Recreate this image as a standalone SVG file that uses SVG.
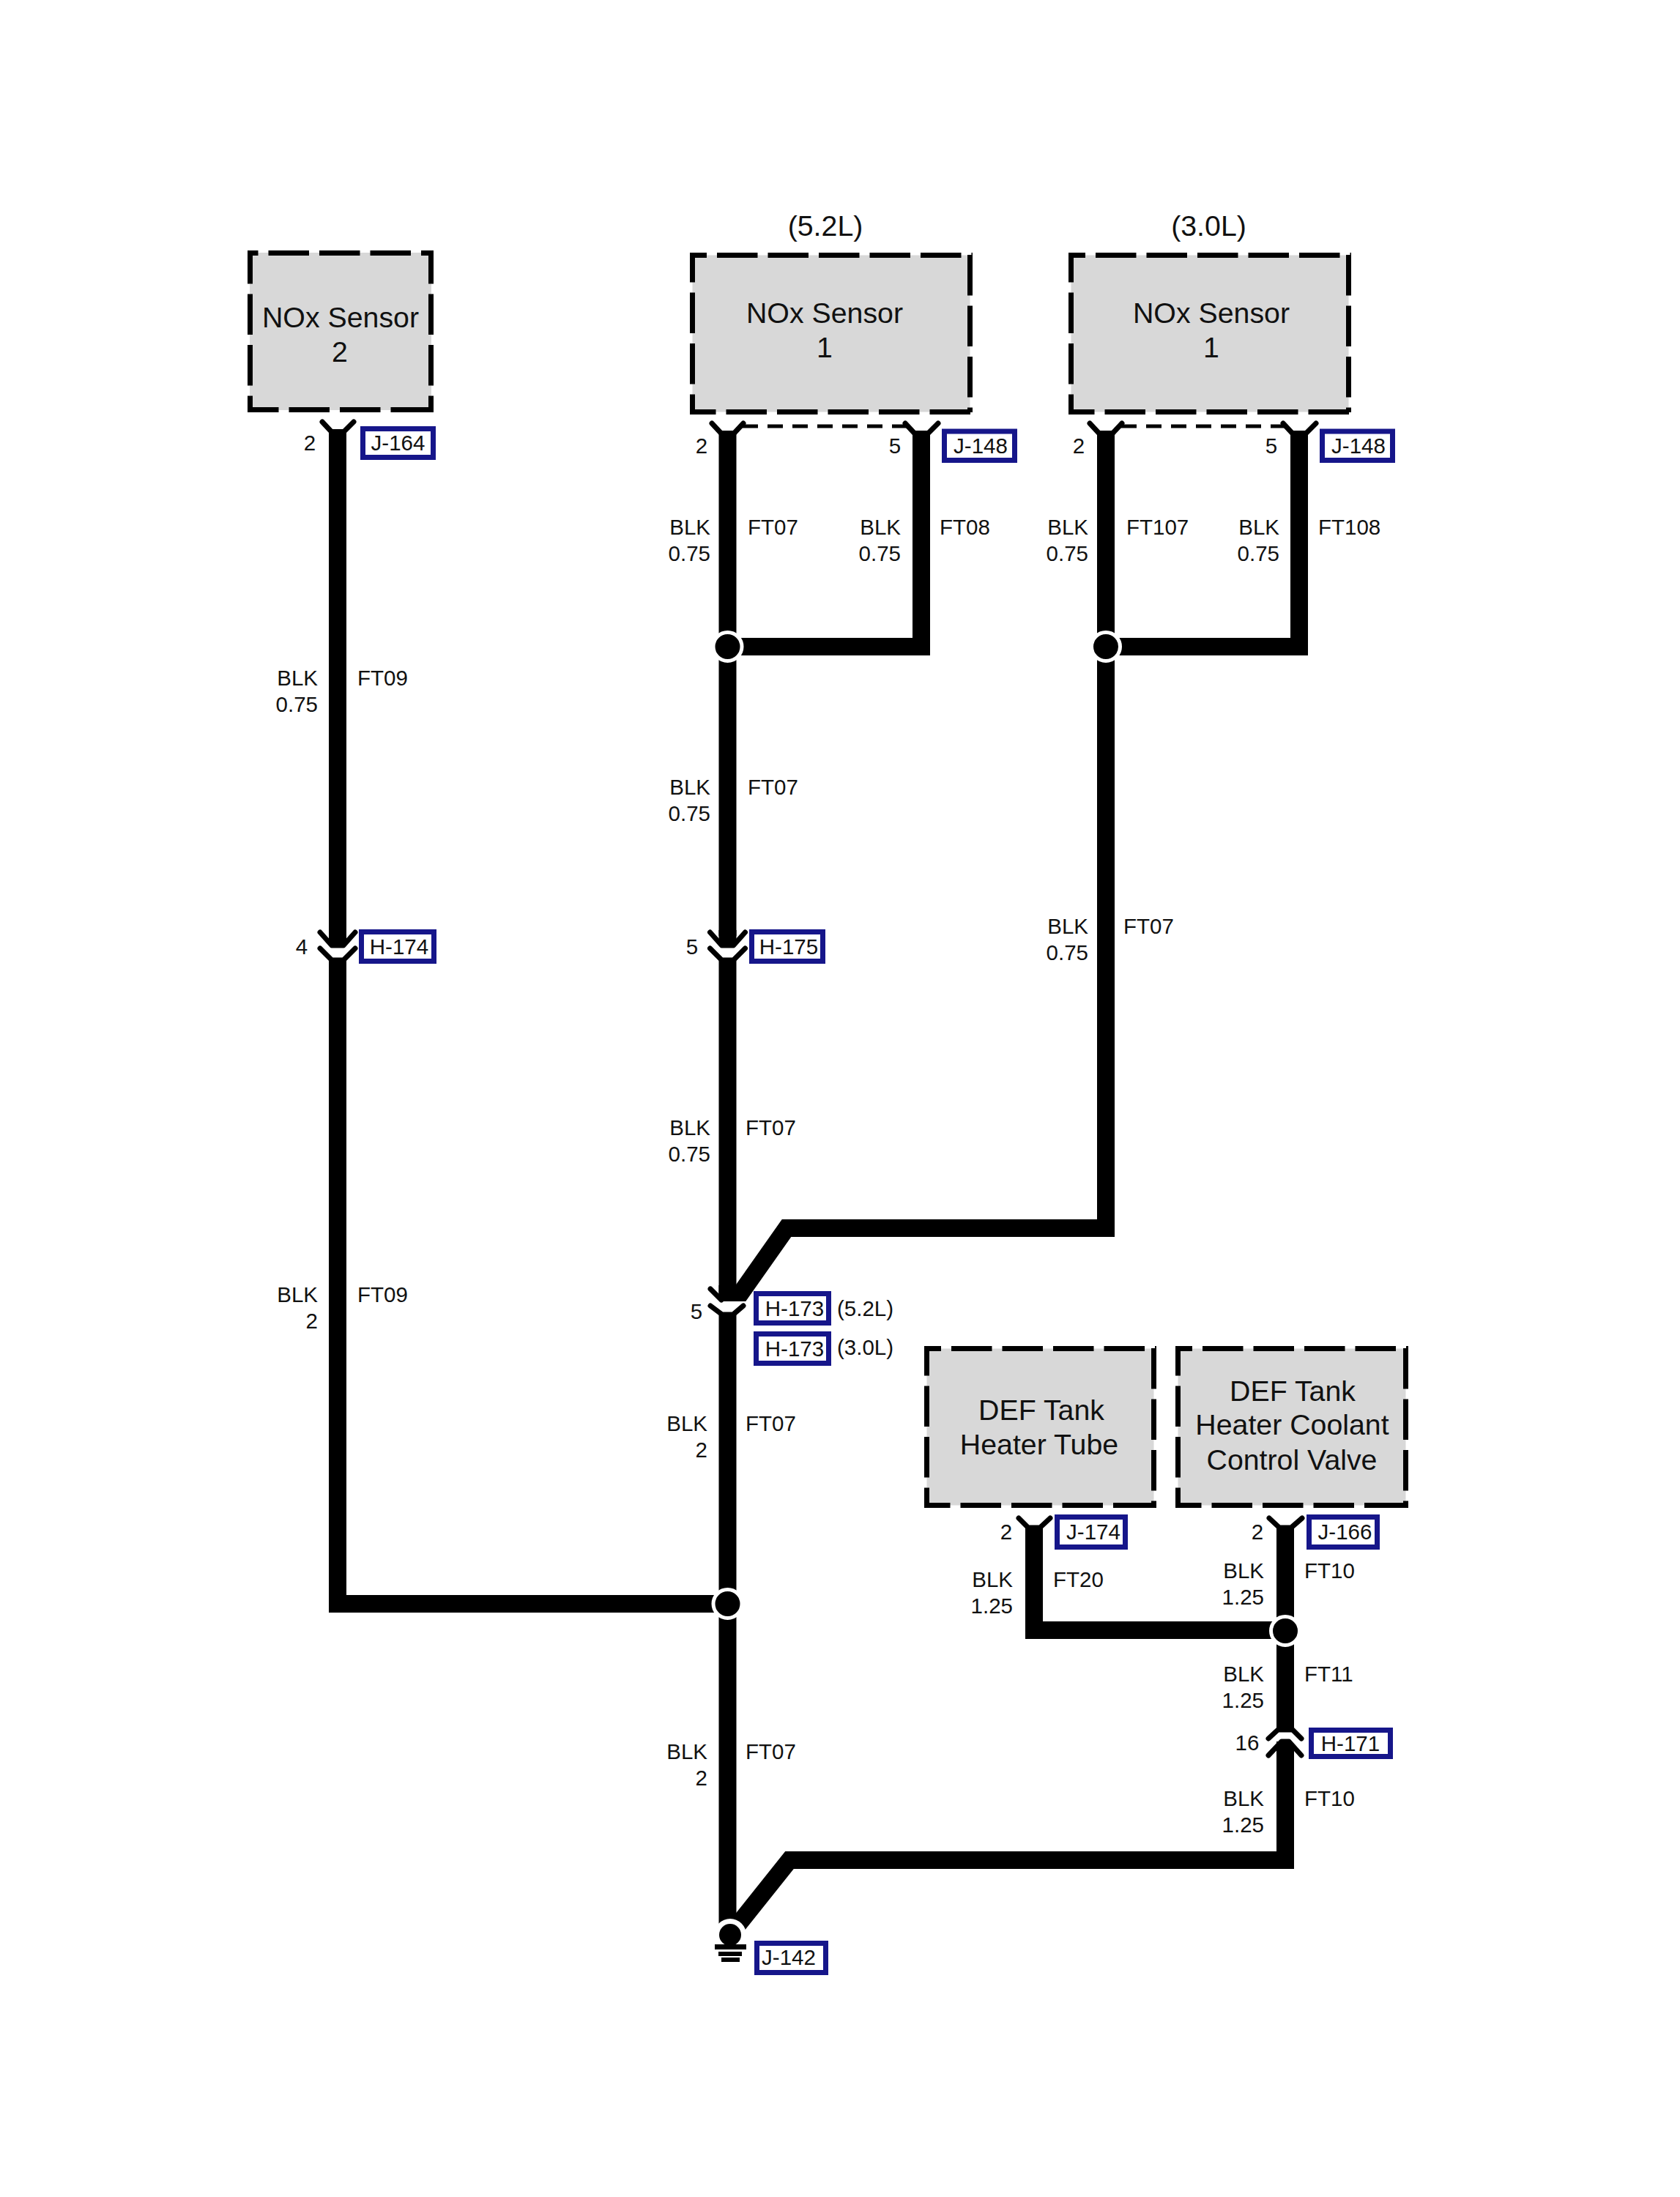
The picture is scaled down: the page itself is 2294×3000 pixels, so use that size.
<svg xmlns="http://www.w3.org/2000/svg" width="2294" height="3000" viewBox="0 0 2294 3000">
<style>
text{font-family:"Liberation Sans",Arial,sans-serif;fill:#111}
.l{font-size:29.500px}
.e{text-anchor:end}
.m{text-anchor:middle}
.b{font-size:39.300px;text-anchor:middle}
.fill{fill:#d8d8d8}
.d{fill:none;stroke:#000;stroke-width:7;stroke-dasharray:55.500 14}
.w{fill:none;stroke:#000;stroke-width:24;stroke-linejoin:miter}
.a{fill:none;stroke:#000;stroke-width:7;stroke-linecap:round;stroke-linejoin:round}
.t{fill:#fff;stroke:#16168a;stroke-width:7}
.ring{fill:#000;stroke:#fff;stroke-width:5}
.th{fill:none;stroke:#000;stroke-width:5;stroke-dasharray:21 13}
</style>
<rect width="2294" height="3000" fill="#fff"/>
<g id="connectors">
<path class="w" d="M461 586V1278"/><path class="w" d="M461 1309V2190H993"/>
<path class="w" d="M993.500 588V1278"/><path class="w" d="M993.500 1309V1770"/><path class="w" d="M993.500 1790V2630"/>
<path class="w" d="M993.500 883H1258V588"/>
<path class="w" d="M1510 588V1677H1074L1005 1775"/>
<path class="w" d="M1510 883H1774V588"/>
<path class="w" d="M1412 2083V2226H1755"/>
<path class="w" d="M1755 2083V2364"/><path class="w" d="M1755 2390V2540H1078L1003 2634"/>
<path class="th" d="M1014 582H1238"/><path class="th" d="M1531 582H1754"/>
</g>
<g id="terminals">
<path class="a" d="M440 576L453 590H469L483 576"/>
<path class="a" d="M972 578L985 592H1002L1015 578"/><path class="a" d="M1236 578L1249 592H1267L1281 578"/>
<path class="a" d="M1488 578L1501 592H1519L1532 578"/><path class="a" d="M1752 578L1765 592H1783L1797 578"/>
<path class="a" d="M1391 2073L1404 2086H1420L1434 2073"/><path class="a" d="M1733 2073L1747 2086H1763L1778 2073"/>
<g id="pin-h174"><path d="M449 1270V1283L455 1291H467L473 1283V1270Z"/><path class="a" d="M437 1273L453 1291H469L485 1273"/><path class="a" d="M437 1295L453 1311H469L485 1295"/></g>
<g id="pin-h175"><path d="M981.500 1270V1283L987.500 1291H999.500L1005.500 1283V1270Z"/><path class="a" d="M969.500 1273L985.500 1291H1001.500L1017.500 1273"/><path class="a" d="M969.500 1295L985.500 1311H1001.500L1017.500 1295"/></g>
<g id="pin-h173"><path fill="#fff" d="M976 1777H1020L1002 1794H985Z"/><path d="M981.500 1755V1770L987 1777H1006L1016 1777L1005.500 1755Z"/><path class="a" d="M970 1760L985 1775"/><path class="a" d="M970 1783L986 1795H1001L1015 1783"/></g>
<g id="pin-h171"><path class="a" d="M1732 2374L1745 2362H1765L1777 2374"/><path d="M1743 2378V2397H1767V2388L1760 2378H1750Z"/><path class="a" d="M1732 2397L1750 2378H1760L1777 2397"/></g>
</g>
<g id="splices">
<circle class="ring" cx="993.500" cy="883" r="19.500"/><circle class="ring" cx="1510" cy="883" r="19.500"/>
<circle class="ring" cx="993.500" cy="2190" r="19.500"/><circle class="ring" cx="1755" cy="2227" r="19.500"/>
</g>
<g id="ground"><circle fill="#fff" cx="997" cy="2642" r="22"/><circle cx="997" cy="2642" r="15"/>
<rect x="976" y="2655" width="43" height="7"/><rect x="981" y="2665" width="32" height="6"/><rect x="985" y="2673" width="25" height="6"/></g>
<g id="nox2"><rect class="fill" x="341" y="345" width="248" height="215"/>
<path class="d" stroke-dashoffset="41" d="M338 345.500H592"/><path class="d" stroke-dashoffset="13" d="M338 559.500H592"/><path class="d" stroke-dashoffset="10" d="M341.500 342V563"/><path class="d" stroke-dashoffset="10" d="M588.500 342V563"/>
<text class="b" x="465" y="447">NOx Sensor</text><text class="b" x="464" y="494">2</text></g>
<g id="nox1a"><rect class="fill" x="945.500" y="348.500" width="379" height="214"/>
<path class="d" stroke-dashoffset="32.500" d="M942 348.500H1328"/><path class="d" stroke-dashoffset="20" d="M942 562.500H1328"/><path class="d" stroke-dashoffset="15" d="M945.500 345V566"/><path class="d" d="M1324.500 348V563"/>
<text class="b" x="1126" y="441">NOx Sensor</text><text class="b" x="1126" y="488">1</text></g>
<g id="nox1b"><rect class="fill" x="1462.500" y="348.500" width="379" height="214"/>
<path class="d" stroke-dashoffset="32.500" d="M1459 348.500H1845"/><path class="d" stroke-dashoffset="20" d="M1459 562.500H1845"/><path class="d" stroke-dashoffset="15" d="M1462.500 345V566"/><path class="d" d="M1841.500 348V563"/>
<text class="b" x="1654" y="441">NOx Sensor</text><text class="b" x="1654" y="488">1</text></g>
<g id="def-tube"><rect class="fill" x="1265.500" y="1841.500" width="310" height="214"/>
<path class="d" stroke-dashoffset="32.500" d="M1262 1841.500H1579"/><path class="d" stroke-dashoffset="20" d="M1262 2055.500H1579"/><path class="d" stroke-dashoffset="15" d="M1265.500 1838V2059"/><path class="d" d="M1575.500 1841V2059"/>
<text class="b" x="1422" y="1939">DEF Tank</text><text class="b" x="1419" y="1986">Heater Tube</text></g>
<g id="def-valve"><rect class="fill" x="1608.500" y="1841.500" width="311" height="214"/>
<path class="d" stroke-dashoffset="32.500" d="M1605 1841.500H1923"/><path class="d" stroke-dashoffset="20" d="M1605 2055.500H1923"/><path class="d" stroke-dashoffset="15" d="M1608.500 1838V2059"/><path class="d" d="M1919.500 1841V2059"/>
<text class="b" x="1765" y="1913">DEF Tank</text><text class="b" x="1764.500" y="1959">Heater Coolant</text><text class="b" x="1764" y="2007">Control Valve</text></g>
<g id="tags">
<rect class="t" x="495.500" y="585.500" width="96" height="39"/><text class="l m" x="543.500" y="615">J-164</text>
<rect class="t" x="1289.500" y="589" width="96" height="39.500"/><text class="l m" x="1339" y="619">J-148</text>
<rect class="t" x="1805.500" y="589" width="96" height="39.500"/><text class="l m" x="1855" y="619">J-148</text>
<rect class="t" x="493.500" y="1272.500" width="99" height="40"/><text class="l m" x="545" y="1303">H-174</text>
<rect class="t" x="1026.500" y="1272.500" width="97" height="40"/><text class="l m" x="1077" y="1303">H-175</text>
<rect class="t" x="1032.500" y="1766.500" width="99" height="40"/><text class="l m" x="1085" y="1797">H-173</text>
<rect class="t" x="1032.500" y="1821.500" width="99" height="40"/><text class="l m" x="1085" y="1852">H-173</text>
<rect class="t" x="1443.500" y="2071.500" width="93" height="41"/><text class="l m" x="1493" y="2102">J-174</text>
<rect class="t" x="1787.500" y="2071.500" width="93" height="41"/><text class="l m" x="1836.500" y="2102">J-166</text>
<rect class="t" x="1790.500" y="2362.500" width="108" height="36"/><text class="l m" x="1844" y="2391">H-171</text>
<rect class="t" x="1033.500" y="2653.500" width="94" height="40"/><text class="l m" x="1077" y="2683">J-142</text>
</g>
<g id="labels">
<text class="b" x="1127" y="321.500">(5.2L)</text><text class="b" x="1650.500" y="321.500">(3.0L)</text>
<text class="l" x="1143" y="1797">(5.2L)</text><text class="l" x="1143" y="1850">(3.0L)</text>
<text class="l m" x="423" y="615">2</text><text class="l m" x="958" y="619">2</text><text class="l m" x="1222" y="619">5</text><text class="l m" x="1473" y="619">2</text><text class="l m" x="1736" y="619">5</text>
<text class="l m" x="412" y="1303">4</text><text class="l m" x="945" y="1303">5</text><text class="l m" x="951" y="1801">5</text><text class="l m" x="1374" y="2102">2</text><text class="l m" x="1717" y="2102">2</text><text class="l m" x="1703" y="2390">16</text>
<text class="l e" x="434" y="936">BLK</text><text class="l e" x="434" y="972">0.75</text><text class="l" x="488" y="936">FT09</text>
<text class="l e" x="970" y="730">BLK</text><text class="l e" x="970" y="766">0.75</text><text class="l" x="1021" y="730">FT07</text>
<text class="l e" x="1230" y="730">BLK</text><text class="l e" x="1230" y="766">0.75</text><text class="l" x="1283" y="730">FT08</text>
<text class="l e" x="1486" y="730">BLK</text><text class="l e" x="1486" y="766">0.75</text><text class="l" x="1538" y="730">FT107</text>
<text class="l e" x="1747" y="730">BLK</text><text class="l e" x="1747" y="766">0.75</text><text class="l" x="1800" y="730">FT108</text>
<text class="l e" x="970" y="1085">BLK</text><text class="l e" x="970" y="1121">0.75</text><text class="l" x="1021" y="1085">FT07</text>
<text class="l e" x="1486" y="1275">BLK</text><text class="l e" x="1486" y="1311">0.75</text><text class="l" x="1534" y="1275">FT07</text>
<text class="l e" x="970" y="1550">BLK</text><text class="l e" x="970" y="1586">0.75</text><text class="l" x="1018" y="1550">FT07</text>
<text class="l e" x="434" y="1778">BLK</text><text class="l e" x="434" y="1814">2</text><text class="l" x="488" y="1778">FT09</text>
<text class="l e" x="966" y="1954">BLK</text><text class="l e" x="966" y="1990">2</text><text class="l" x="1018" y="1954">FT07</text>
<text class="l e" x="966" y="2402">BLK</text><text class="l e" x="966" y="2438">2</text><text class="l" x="1018" y="2402">FT07</text>
<text class="l e" x="1383" y="2167">BLK</text><text class="l e" x="1383" y="2203">1.25</text><text class="l" x="1438" y="2167">FT20</text>
<text class="l e" x="1726" y="2155">BLK</text><text class="l e" x="1726" y="2191">1.25</text><text class="l" x="1781" y="2155">FT10</text>
<text class="l e" x="1726" y="2296">BLK</text><text class="l e" x="1726" y="2332">1.25</text><text class="l" x="1781" y="2296">FT11</text>
<text class="l e" x="1726" y="2466">BLK</text><text class="l e" x="1726" y="2502">1.25</text><text class="l" x="1781" y="2466">FT10</text>
</g>
</svg>
